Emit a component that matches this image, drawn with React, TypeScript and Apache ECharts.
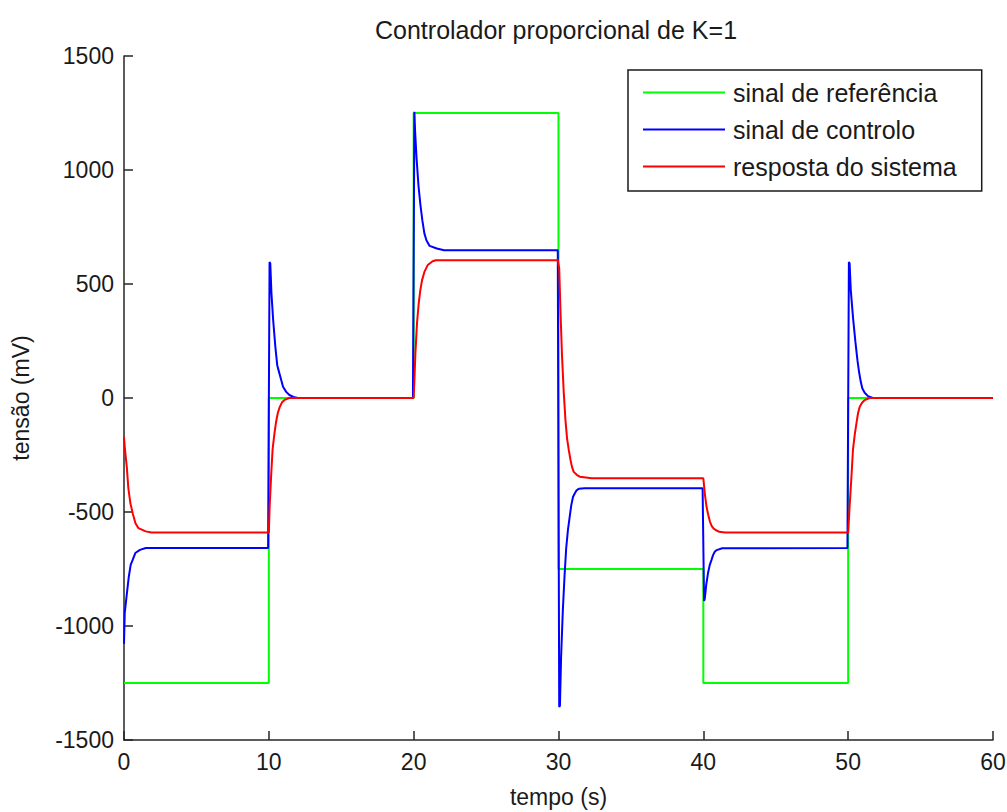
import React, { useEffect, useRef } from "react";
import * as echarts from "echarts";

const chartTitle = "Controlador proporcional de K=1";
const xAxisName = "tempo (s)";
const yAxisName = "tensão (mV)";
const seriesNames = ["sinal de referência", "sinal de controlo", "resposta do sistema"];

// reference signal (green)
const refTime = [0, 10, 10, 20, 20, 30, 30, 40, 40, 50, 50, 60];
const refValues = [-1250, -1250, 0, 0, 1250, 1250, -750, -750, -1250, -1250, 0, 0];

// control signal (blue)
const ctrlTime = [
  0, 0.05, 0.2, 0.33, 0.46, 0.6, 0.78, 1.1, 1.5, 9.95,
  10.05, 10.1, 10.18, 10.3, 10.45, 10.58, 10.73, 10.86, 10.98, 11.2, 11.42, 11.7, 12.0, 19.95,
  20.05, 20.1, 20.2, 20.33, 20.47, 20.6, 20.74, 20.88, 21.1, 21.6, 22.1, 29.95,
  30.05, 30.1, 30.18, 30.3, 30.42, 30.53, 30.65, 30.77, 30.88, 31.0, 31.12, 31.25, 31.4, 31.8, 39.95,
  40.05, 40.1, 40.2, 40.32, 40.44, 40.56, 40.67, 40.79, 40.92, 41.3, 49.95,
  50.05, 50.1, 50.18, 50.34, 50.5, 50.64, 50.75, 50.87, 50.98, 51.14, 51.37, 51.7, 60,
];
const ctrlValues = [
  -1078, -943, -857, -785, -732, -710, -680, -666, -658, -658,
  597, 590, 459, 341, 224, 144, 108, 78, 49, 27, 13, 5, 0, 0,
  1255, 1167, 1052, 933, 845, 779, 722, 692, 667, 656, 648, 648,
  -1355, -1350, -1135, -930, -777, -660, -580, -522, -471, -434, -419, -405, -398, -396, -396,
  -890, -880, -820, -769, -733, -711, -689, -674, -667, -659, -658,
  597, 590, 473, 349, 246, 166, 115, 71, 42, 23, 8, 0, 0,
];

// system response (red)
const respTime = [
  0, 0.05, 0.2, 0.3, 0.44, 0.6, 0.79, 1.0, 1.5, 1.9, 10.0,
  10.06, 10.16, 10.26, 10.38, 10.5, 10.62, 10.75, 10.9, 11.1, 11.4, 20.0,
  20.05, 20.12, 20.23, 20.35, 20.46, 20.58, 20.74, 20.97, 21.31, 21.52, 29.95,
  30.05, 30.13, 30.24, 30.36, 30.48, 30.59, 30.71, 30.83, 30.93, 31.05, 31.28, 31.47, 32.3, 40.0,
  40.1, 40.22, 40.34, 40.46, 40.58, 40.7, 40.85, 41.1, 41.5, 50.0,
  50.1, 50.22, 50.33, 50.45, 50.57, 50.68, 50.8, 50.96, 51.14, 51.48, 60,
];
const respValues = [
  -170, -214, -308, -395, -461, -505, -549, -571, -585, -590, -590,
  -470, -340, -225, -160, -105, -66, -40, -20, -8, 0, 0,
  78, 197, 328, 416, 473, 517, 553, 583, 600, 604, 604,
  568, 393, 188, 27, -97, -177, -228, -272, -302, -324, -338, -345, -352, -352,
  -418, -477, -513, -543, -562, -572, -579, -587, -590, -590,
  -477, -352, -228, -163, -111, -67, -38, -21, -9, 0, 0,
];

const seriesColors = ["#00ff00", "#0000ff", "#ff0000"];

const zip = (t: number[], v: number[]) => t.map((x, i) => [x, v[i]]);

const FONT = "'Liberation Sans', Arial, Helvetica, sans-serif";

export default function App() {
  const ref = useRef<HTMLDivElement>(null);
  useEffect(() => {
    if (!ref.current) return;
    const chart = echarts.init(ref.current, null, { renderer: "svg" });
    const datasets = [zip(refTime, refValues), zip(ctrlTime, ctrlValues), zip(respTime, respValues)];
    chart.setOption({
      animation: false,
      backgroundColor: "#ffffff",
      textStyle: { fontFamily: FONT },
      title: {
        text: chartTitle,
        left: 370,
        top: 12,
        textStyle: { fontFamily: FONT, fontSize: 25, fontWeight: "normal", color: "#1a1a1a" },
      },
      legend: {
        orient: "vertical",
        left: 628,
        top: 70,
        padding: [10, 25, 12, 15],
        icon: "rect",
        itemWidth: 82,
        itemHeight: 2,
        itemGap: 12,
        backgroundColor: "#ffffff",
        borderColor: "#1a1a1a",
        borderWidth: 1.5,
        borderRadius: 0,
        selectedMode: false,
        textStyle: { fontFamily: FONT, fontSize: 25, color: "#1a1a1a", padding: [0, 0, 0, 3], lineHeight: 25 },
        data: seriesNames,
      },
      grid: { left: 124, right: 14, top: 56, bottom: 72, containLabel: false, outerBoundsMode: "none" },
      xAxis: {
        type: "value",
        min: 0,
        max: 60,
        interval: 10,
        name: xAxisName,
        nameLocation: "middle",
        nameGap: 45,
        nameTextStyle: { fontFamily: FONT, fontSize: 23, color: "#1a1a1a" },
        axisLine: { onZero: false, lineStyle: { color: "#262626", width: 1.5 } },
        axisTick: { inside: true, length: 9, lineStyle: { color: "#262626", width: 1.5 } },
        axisLabel: { margin: 10, fontFamily: FONT, fontSize: 23, color: "#1a1a1a", formatter: (v: number) => String(v) },
        splitLine: { show: false },
      },
      yAxis: {
        type: "value",
        min: -1500,
        max: 1500,
        interval: 500,
        name: yAxisName,
        nameLocation: "middle",
        nameGap: 92,
        nameRotate: 90,
        nameTextStyle: { fontFamily: FONT, fontSize: 23, color: "#1a1a1a" },
        axisLine: { show: true, onZero: false, lineStyle: { color: "#262626", width: 1.5 } },
        axisTick: { show: true, inside: true, length: 9, lineStyle: { color: "#262626", width: 1.5 } },
        axisLabel: { margin: 10, fontFamily: FONT, fontSize: 23, color: "#1a1a1a", formatter: (v: number) => String(v) },
        splitLine: { show: false },
      },
      series: seriesNames.map((name, i) => ({
        name,
        type: "line",
        data: datasets[i],
        showSymbol: false,
        symbol: "none",
        color: seriesColors[i],
        itemStyle: { color: seriesColors[i] },
        lineStyle: { color: seriesColors[i], width: 2 },
        z: 2 + i,
      })),
    });
    return () => chart.dispose();
  }, []);
  return (
    <div
      ref={ref}
      style={{ position: "fixed", left: 0, top: 0, width: 1007, height: 812, background: "#fff" }}
    />
  );
}
